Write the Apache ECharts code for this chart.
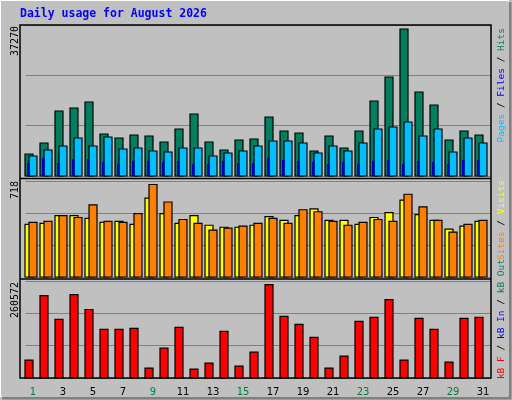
<!DOCTYPE html>
<html><head><meta charset="utf-8">
<script src="https://cdn.jsdelivr.net/npm/echarts@6/dist/echarts.min.js"></script>
<style>html,body{margin:0;padding:0;background:#c0c0c0}#c{width:512px;height:400px}</style>
</head><body><div id="c"></div>
<script>
const days = Array.from({length:31},(_,i)=>String(i+1));
const weekendDays = [1,2,8,9,15,16,22,23,29,30];
const hits = [5430,8144,16042,16782,18263,10366,9378,10119,9872,8391,11600,15302,8391,6417,8885,9132,14561,11106,10612,6170,9872,6910,11106,18510,24433,36280,20731,17523,8885,11106,10119];
const files = [4936,6417,7404,9378,7404,9625,6664,6910,6170,5923,6910,6910,4936,5676,6170,7404,8638,8638,8144,5676,7404,6170,8144,11600,12093,13327,9872,11600,5923,9378,8144];
const pages = [3208,4442,3208,4196,4196,3455,2962,3702,3702,3455,3702,2962,2962,3702,3208,3208,4442,3949,3702,3455,2962,3455,2962,3702,3949,2962,3702,3455,2962,3949,3949];
const visits = [394,401,459,459,438,409,416,394,590,474,401,459,387,372,372,387,452,423,459,510,423,423,394,445,481,575,467,423,358,380,416];
const sites = [409,416,459,445,539,416,409,474,692,561,430,401,351,365,380,401,438,401,503,488,416,387,409,430,416,619,525,423,336,394,423];
const kbF = [48006,221361,157353,224028,184023,130683,130683,133350,26670,80010,136017,24003,40005,125349,32004,69342,250698,165354,144018,109347,26670,58674,152019,162687,210693,48006,160020,130683,42672,160020,162687];
const maxTop = 37270, maxMid = 718, maxBot = 260572;

const chart = echarts.init(document.getElementById('c'));
function bar(off, w, color, stroke){
  return function(params, api){
    const p = api.coord([api.value(0), api.value(1)]);
    const b = api.coord([api.value(0), 0]);
    return {type:'rect', shape:{x:p[0]+off, y:p[1], width:w, height:b[1]-p[1]},
      style:{fill:color, stroke: stroke ? '#000' : null, lineWidth: stroke ? 1.2 : 0}};
  };
}
const toData = arr => arr.map((v,i)=>[i,v]);
const L = 25.5, W = 465;
const grids = [
  {left:L, width:W, top:25, height:151},
  {left:L, width:W, top:181, height:96},
  {left:L, width:W, top:281, height:97}
];
const maxes = [maxTop, maxMid, maxBot];
const xAxes = grids.map((g,i)=>({type:'category', gridIndex:i, data:days,
  axisLine:{show:false}, axisTick:{show:false},
  axisLabel:{show:i===2, margin:9, fontFamily:'DejaVu Sans', fontSize:10,
    color:(v)=>weekendDays.includes(+v)?'#008040':'#000'}}));
const yAxes = grids.map((g,i)=>({type:'value', gridIndex:i, min:0, max:maxes[i], interval:maxes[i]/3,
  axisLine:{show:false}, axisTick:{show:false}, axisLabel:{show:false},
  splitLine:{show:true, lineStyle:{color:'#808080', width:1.2}}}));
const mk = (i, arr, off, w, color, stroke=true) => ({type:'custom', xAxisIndex:i, yAxisIndex:i,
  renderItem:bar(off,w,color,stroke), data:toData(arr), silent:true});
const mono = 'DejaVu Sans Mono';
function vtext(x, y, rich, text, extra){
  return {type:'text', x, y, rotation:Math.PI/2, style:Object.assign({text, rich, align:'right', verticalAlign:'middle', font:'9px '+mono}, extra||{})};
}
const rs = c => ({fill:c, fontFamily:mono, fontSize:9.5});
chart.setOption({
  animation:false,
  backgroundColor:'#c0c0c0',
  grid:grids, xAxis:xAxes, yAxis:yAxes,
  series:[
    mk(0,hits,-8,8,'#008060'), mk(0,files,-4,8,'#00bfff'), mk(0,pages,-6,2.5,'#0000c0',false),
    mk(1,visits,-8,8,'#ffff00'), mk(1,sites,-4,8,'#ff8000'),
    mk(2,kbF,-8,8,'#ff0000')
  ],
  graphic:[
    {type:'rect', shape:{x:0.5,y:0.5,width:508,height:396}, style:{fill:null, stroke:'#fff', lineWidth:1}, z:-1},
    {type:'polyline', shape:{points:[[510,2],[510,398],[2,398]]}, style:{stroke:'#808080', lineWidth:3, fill:null}},
    {type:'rect', shape:{x:20,y:25,width:471,height:353}, style:{fill:null, stroke:'#000', lineWidth:1.5}, z:10},
    {type:'line', shape:{x1:20,y1:178.5,x2:491,y2:178.5}, style:{stroke:'#000', lineWidth:1.5}, z:10},
    {type:'line', shape:{x1:20,y1:279,x2:491,y2:279}, style:{stroke:'#000', lineWidth:1.5}, z:10},
    {type:'text', x:20, y:8, style:{text:'Daily usage for August 2026', font:'bold 11.5px '+mono, fill:'#0000ff'}},
    vtext(15, 26, null, '37270', {font:'10px '+mono, fill:'#000'}),
    vtext(15, 181, null, '718', {font:'10px '+mono, fill:'#000'}),
    vtext(15, 282, null, '260572', {font:'10px '+mono, fill:'#000'}),
    vtext(502, 28, {p:rs('#00bfff'),f:rs('#0000ff'),h:rs('#008060'),s:rs('#000')}, '{p|Pages}{s| / }{f|Files}{s| / }{h|Hits}'),
    vtext(502, 180, {a:rs('#ff8000'),b:rs('#ffff00'),s:rs('#000')}, '{a|Sites}{s| / }{b|Visits}'),
    vtext(502, 259, {r:rs('#ff0000'),b:rs('#0000ff'),g:rs('#008060'),s:rs('#000')}, '{r|kB F}{s| / }{b|kB In}{s| / }{g|kB Out}')
  ]
});
</script></body></html>
